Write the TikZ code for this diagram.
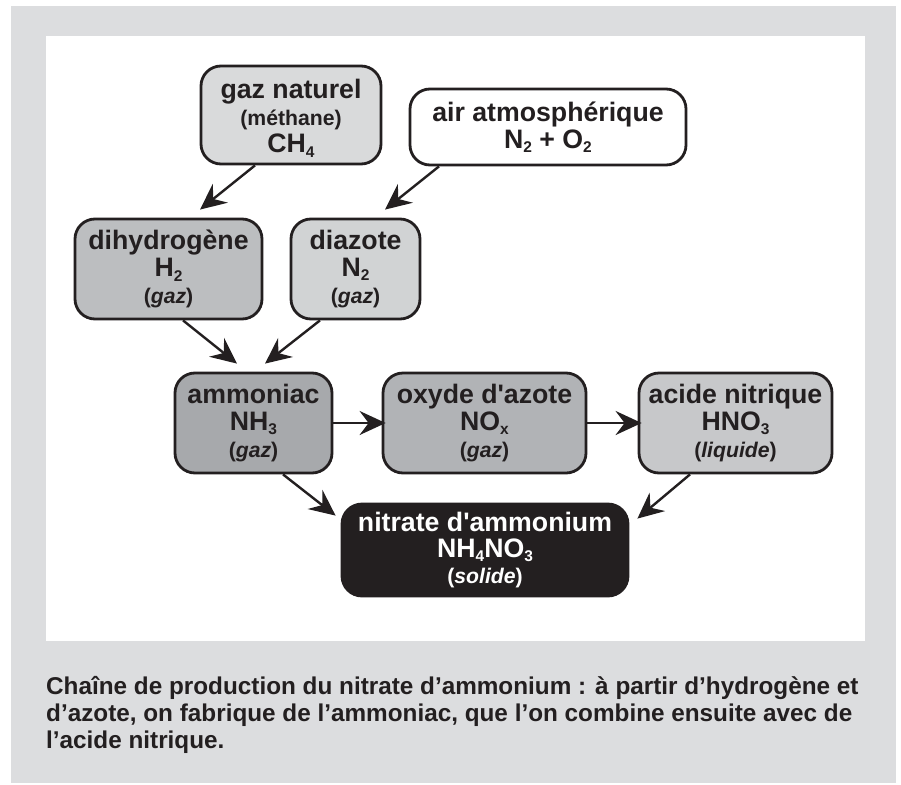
\documentclass[tikz,border=0pt]{standalone}
\usepackage{fontspec}
\setmainfont{Liberation Sans}
\newfontfamily\diagfont{Liberation Sans}[Ligatures=TeXOff]
\usetikzlibrary{arrows.meta,calc}
\definecolor{ink}{HTML}{231F20}
\definecolor{bggray}{HTML}{DCDDDF}
\definecolor{cgaz}{HTML}{D9DADB}
\definecolor{cdihy}{HTML}{BCBEC0}
\definecolor{cdiaz}{HTML}{D1D3D4}
\definecolor{cammo}{HTML}{A7A9AC}
\definecolor{coxy}{HTML}{B1B3B6}
\definecolor{cacid}{HTML}{C7C8CA}
\newcommand\sbs[1]{\raisebox{-4.5pt}{\fontsize{15.5}{15.5}\selectfont #1}}
\newcommand\lgx{\fontsize{26.7}{27}\selectfont}
\newcommand\smx{\fontsize{21.2}{27}\selectfont}
\begin{document}
\begin{tikzpicture}[x=1pt,y=-1pt,
  box/.style={draw=ink, line width=2.8pt, rounded corners=20pt, align=center,
    inner sep=0pt, text=ink, font=\diagfont\bfseries\lgx},
  arr/.style={draw=ink, line width=2.4pt, -{Stealth[length=26pt,width=24pt,inset=9pt]}},
  caption/.style={anchor=north west, inner sep=0pt, align=left, text=ink,
    font=\bfseries\fontsize{24.3}{27}\selectfont}]
\useasboundingbox (0,0) rectangle (901,784);
\fill[bggray] (11,6) rectangle (896,783);
\fill[white] (46,36) rectangle (865,641);

\node[box, fill=cgaz, minimum width=180pt, minimum height=98pt] (gaz) at (291,115)
  {\rule{0pt}{26pt}gaz naturel\\{\smx(méthane)}\\CH\sbs{4}};
\node[box, fill=white, minimum width=276pt, minimum height=76pt] (air) at (548,127)
  {air atmosphérique\\N\sbs{2} + O\sbs{2}};
\node[box, fill=cdihy, minimum width=187pt, minimum height=100pt] (dihy) at (168.5,269)
  {dihydrogène\\H\sbs{2}\\{\smx(\textit{gaz})}};
\node[box, fill=cdiaz, minimum width=129pt, minimum height=100pt] (diaz) at (355.5,269)
  {diazote\\N\sbs{2}\\{\smx(\textit{gaz})}};
\node[box, fill=cammo, minimum width=157pt, minimum height=100pt] (ammo) at (253.5,423)
  {ammoniac\\NH\sbs{3}\\{\smx(\textit{gaz})}};
\node[box, fill=coxy, minimum width=203pt, minimum height=100pt] (oxy) at (484.5,423)
  {oxyde d'azote\\NO\sbs{x}\\{\smx(\textit{gaz})}};
\node[box, fill=cacid, minimum width=193pt, minimum height=100pt] (acid) at (735.5,423)
  {acide nitrique\\HNO\sbs{3}\\{\smx(\textit{liquide})}};
\node[box, fill=ink, text=white, minimum width=286pt, minimum height=92pt,
  font=\diagfont\bfseries\fontsize{26.7}{26}\selectfont] (nitr) at (485,550)
  {nitrate d'ammonium\\NH\sbs{4}NO\sbs{3}\\{\fontsize{21.2}{26}\selectfont(\textit{solide})}};

\draw[arr] ([xshift=-36pt]gaz.south) -- ([xshift=31.5pt,yshift=8pt]dihy.north);
\draw[arr] ([xshift=-109pt]air.south) -- ([xshift=29.5pt,yshift=8pt]diaz.north);
\draw[arr] ([xshift=14.5pt]dihy.south) -- ([xshift=-16.5pt,yshift=8pt]ammo.north);
\draw[arr] ([xshift=-35.5pt]diaz.south) -- ([xshift=11.5pt,yshift=8pt]ammo.north);
\draw[arr] (ammo.east) -- ([xshift=4pt]oxy.west);
\draw[arr] (oxy.east) -- ([xshift=4pt]acid.west);
\draw[arr] ([xshift=29.5pt]ammo.south) -- ([xshift=-5pt,yshift=-13pt]nitr.north west);
\draw[arr] ([xshift=-45.5pt]acid.south) -- ([xshift=8pt,yshift=-16pt]nitr.north east);

\node[caption] (cap) at (46,676)
  {Chaîne de production du nitrate d’ammonium : à partir d’hydrogène et\\
   d’azote, on fabrique de l’ammoniac, que l’on combine ensuite avec de\\
   l’acide nitrique.};
\end{tikzpicture}
\end{document}
